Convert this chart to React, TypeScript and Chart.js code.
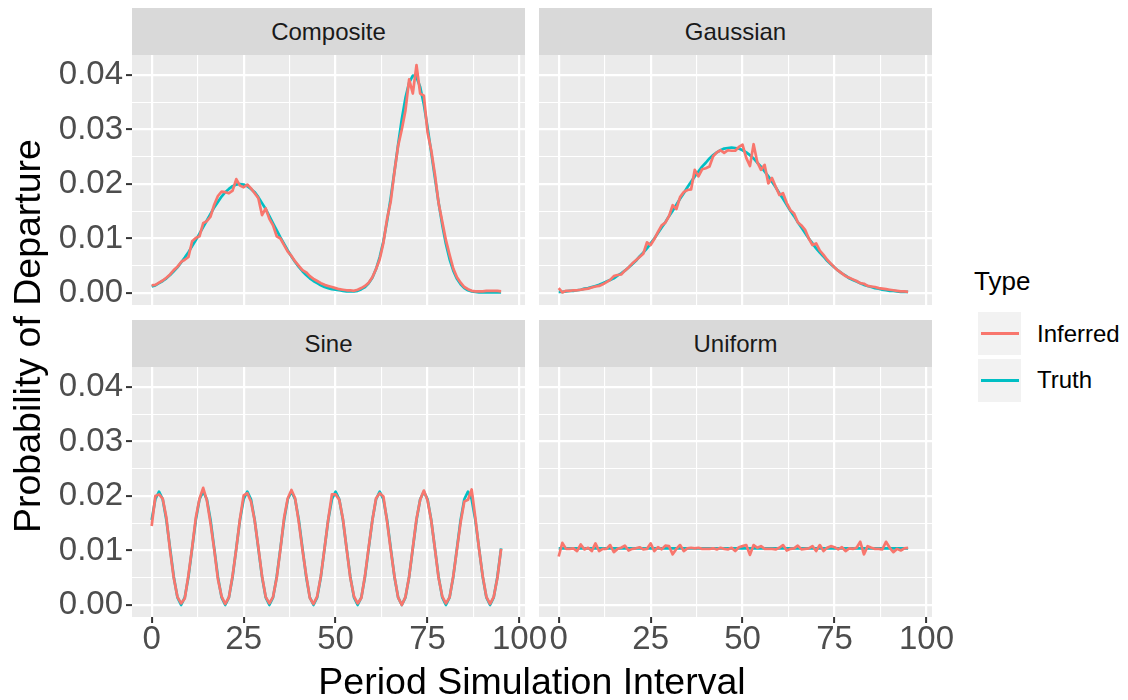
import React, { useEffect, useRef } from "react";
import { Chart, registerables } from "chart.js";

Chart.register(...registerables);

const FONT = "'Liberation Sans', Arial, Helvetica, sans-serif";
Chart.defaults.font.family = FONT;

// ---------------- data ----------------
const X_VALUES = [
  0, 1, 2, 3, 4, 5, 6, 7, 8, 9, 10, 11, 12, 13, 14, 15, 16, 17, 18, 19,
  20, 21, 22, 23, 24, 25, 26, 27, 28, 29, 30, 31, 32, 33, 34, 35, 36, 37, 38, 39,
  40, 41, 42, 43, 44, 45, 46, 47, 48, 49, 50, 51, 52, 53, 54, 55, 56, 57, 58, 59,
  60, 61, 62, 63, 64, 65, 66, 67, 68, 69, 70, 71, 72, 73, 74, 75, 76, 77, 78, 79,
  80, 81, 82, 83, 84, 85, 86, 87, 88, 89, 90, 91, 92, 93, 94, 95,
];

const COMPOSITE_TRUTH = [
  0.0012, 0.0014, 0.0018, 0.0022, 0.0027, 0.0033, 0.004, 0.0047, 0.0056, 0.0065,
  0.0075, 0.0086, 0.0097, 0.0109, 0.0121, 0.0133, 0.0145, 0.0157, 0.0167, 0.0177,
  0.0185, 0.0191, 0.0196, 0.0199, 0.02, 0.0199, 0.0196, 0.0191, 0.0185, 0.0176,
  0.0165, 0.0154, 0.0141, 0.0128, 0.0115, 0.0102, 0.009, 0.0078, 0.0067, 0.0057,
  0.0048, 0.004, 0.0033, 0.0027, 0.0022, 0.0018, 0.0014, 0.0011, 0.0009, 0.0007,
  0.0006, 0.0005, 0.0004, 0.0003, 0.0003, 0.0003, 0.0004, 0.0007, 0.0011, 0.0018,
  0.0028, 0.0044, 0.0066, 0.0095, 0.0132, 0.0175, 0.0223, 0.0272, 0.0319, 0.0358,
  0.0386, 0.0399, 0.0396, 0.0378, 0.0346, 0.0304, 0.0258, 0.0212, 0.0166, 0.0125,
  0.009, 0.0062, 0.0041, 0.0026, 0.0016, 0.0009, 0.0005, 0.0003, 0.0002, 0.0001,
  0.0001, 0.0001, 0.0001, 0.0001, 0.0001, 0.0001,
];
const COMPOSITE_INFERRED = [
  0.0014, 0.0015, 0.0019, 0.0023, 0.0028, 0.0034, 0.0042, 0.0048, 0.0057, 0.0061,
  0.0066, 0.0095, 0.0101, 0.0104, 0.0128, 0.0132, 0.014, 0.0162, 0.0178, 0.0186,
  0.0185, 0.0183, 0.0188, 0.0209, 0.0197, 0.0194, 0.0199, 0.0192, 0.0183, 0.0174,
  0.0143, 0.0155, 0.0136, 0.0124, 0.0104, 0.01, 0.0088, 0.0076, 0.0068, 0.0058,
  0.005, 0.0042, 0.0038, 0.0031, 0.0026, 0.0022, 0.0018, 0.0015, 0.0013, 0.0011,
  0.0009, 0.0007, 0.0006, 0.0005, 0.0005, 0.0004, 0.0006, 0.0009, 0.0013, 0.0019,
  0.0029, 0.0044, 0.0062, 0.0092, 0.0136, 0.0168, 0.0222, 0.027, 0.03, 0.0335,
  0.0392, 0.0366, 0.0418, 0.0366, 0.0362, 0.0295, 0.0262, 0.0218, 0.0165, 0.0131,
  0.0097, 0.007, 0.0045, 0.0029, 0.0019, 0.0011, 0.0007, 0.0004, 0.0003, 0.0003,
  0.0003, 0.0004, 0.0004, 0.0004, 0.0004, 0.0003,
];

const GAUSSIAN_TRUTH = [
  0.0002, 0.0002, 0.0003, 0.0004, 0.0004, 0.0005, 0.0006, 0.0008, 0.0009, 0.0011,
  0.0013, 0.0015, 0.0018, 0.0021, 0.0024, 0.0027, 0.0032, 0.0036, 0.0041, 0.0047,
  0.0053, 0.0059, 0.0067, 0.0074, 0.0082, 0.0091, 0.01, 0.011, 0.012, 0.013,
  0.0141, 0.0151, 0.0162, 0.0173, 0.0183, 0.0194, 0.0204, 0.0214, 0.0223, 0.0232,
  0.0239, 0.0247, 0.0253, 0.0258, 0.0262, 0.0265, 0.0266, 0.0267, 0.0266, 0.0265,
  0.0262, 0.0258, 0.0253, 0.0247, 0.0239, 0.0232, 0.0223, 0.0214, 0.0204, 0.0194,
  0.0183, 0.0173, 0.0162, 0.0151, 0.0141, 0.013, 0.012, 0.011, 0.01, 0.0091,
  0.0082, 0.0074, 0.0067, 0.0059, 0.0053, 0.0047, 0.0041, 0.0036, 0.0032, 0.0027,
  0.0024, 0.0021, 0.0018, 0.0015, 0.0013, 0.0011, 0.0009, 0.0008, 0.0006, 0.0005,
  0.0004, 0.0004, 0.0003, 0.0002, 0.0002, 0.0002,
];
const GAUSSIAN_INFERRED = [
  0.0009, 0.0001, 0.0004, 0.0004, 0.0005, 0.0005, 0.0006, 0.0007, 0.0008, 0.001,
  0.0012, 0.0013, 0.0016, 0.002, 0.0024, 0.0031, 0.0033, 0.0034, 0.0041, 0.0047,
  0.0054, 0.006, 0.0066, 0.0072, 0.0093, 0.0088, 0.0099, 0.0112, 0.0124, 0.0129,
  0.0141, 0.0161, 0.0154, 0.0176, 0.0185, 0.0189, 0.019, 0.0226, 0.0214, 0.0227,
  0.0229, 0.0232, 0.0251, 0.0258, 0.0262, 0.0257, 0.0262, 0.0261, 0.0261, 0.0268,
  0.0272, 0.0248, 0.0233, 0.0273, 0.024, 0.0226, 0.0235, 0.0201, 0.0211, 0.0195,
  0.018, 0.0183, 0.0165, 0.0152, 0.0146, 0.013, 0.0124, 0.0116, 0.01, 0.0088,
  0.0091, 0.0078, 0.007, 0.0061, 0.0054, 0.0047, 0.0041, 0.0036, 0.0031, 0.0028,
  0.0025, 0.0022, 0.0018, 0.0017, 0.0013, 0.0012, 0.0011, 0.0009, 0.0008, 0.0007,
  0.0006, 0.0005, 0.0004, 0.0003, 0.0003, 0.0002,
];

const SINE_TRUTH = [
  0.0156, 0.0194, 0.0208, 0.0194, 0.0156, 0.0104, 0.0052, 0.0014, 0.0, 0.0014, 0.0052, 0.0104,
  0.0156, 0.0194, 0.0208, 0.0194, 0.0156, 0.0104, 0.0052, 0.0014, 0.0, 0.0014, 0.0052, 0.0104,
  0.0156, 0.0194, 0.0208, 0.0194, 0.0156, 0.0104, 0.0052, 0.0014, 0.0, 0.0014, 0.0052, 0.0104,
  0.0156, 0.0194, 0.0208, 0.0194, 0.0156, 0.0104, 0.0052, 0.0014, 0.0, 0.0014, 0.0052, 0.0104,
  0.0156, 0.0194, 0.0208, 0.0194, 0.0156, 0.0104, 0.0052, 0.0014, 0.0, 0.0014, 0.0052, 0.0104,
  0.0156, 0.0194, 0.0208, 0.0194, 0.0156, 0.0104, 0.0052, 0.0014, 0.0, 0.0014, 0.0052, 0.0104,
  0.0156, 0.0194, 0.0208, 0.0194, 0.0156, 0.0104, 0.0052, 0.0014, 0.0, 0.0014, 0.0052, 0.0104,
  0.0156, 0.0194, 0.0208, 0.0194, 0.0156, 0.0104, 0.0052, 0.0014, 0.0, 0.0014, 0.0052, 0.0104,
];
const SINE_INFERRED = [
  0.0145, 0.02, 0.0203, 0.0195, 0.016, 0.01, 0.005, 0.0015, 0.0003, 0.0012, 0.0055, 0.0105,
  0.016, 0.0195, 0.0215, 0.0192, 0.015, 0.0102, 0.0048, 0.0016, 0.0002, 0.0014, 0.0054, 0.0103,
  0.0158, 0.0201, 0.0205, 0.019, 0.0155, 0.0106, 0.0053, 0.0015, 0.0003, 0.0015, 0.005, 0.0102,
  0.016, 0.0196, 0.0211, 0.0196, 0.0152, 0.0101, 0.0055, 0.0013, 0.0002, 0.0016, 0.0053, 0.0104,
  0.0157, 0.0203, 0.0203, 0.0193, 0.0158, 0.0103, 0.005, 0.0016, 0.0003, 0.0013, 0.0054, 0.0106,
  0.0155, 0.0196, 0.0205, 0.0199, 0.0153, 0.0101, 0.0053, 0.0014, 0.0, 0.0015, 0.0052, 0.0105,
  0.0158, 0.0193, 0.021, 0.0192, 0.0155, 0.0104, 0.005, 0.0016, 0.0003, 0.0014, 0.0053, 0.0102,
  0.0152, 0.019, 0.0193, 0.0212, 0.016, 0.0103, 0.0053, 0.0015, 0.0002, 0.0015, 0.005, 0.0103,
];

const UNIFORM_TRUTH = [
  0.0104, 0.0104, 0.0104, 0.0104, 0.0104, 0.0104, 0.0104, 0.0104, 0.0104, 0.0104, 0.0104, 0.0104,
  0.0104, 0.0104, 0.0104, 0.0104, 0.0104, 0.0104, 0.0104, 0.0104, 0.0104, 0.0104, 0.0104, 0.0104,
  0.0104, 0.0104, 0.0104, 0.0104, 0.0104, 0.0104, 0.0104, 0.0104, 0.0104, 0.0104, 0.0104, 0.0104,
  0.0104, 0.0104, 0.0104, 0.0104, 0.0104, 0.0104, 0.0104, 0.0104, 0.0104, 0.0104, 0.0104, 0.0104,
  0.0104, 0.0104, 0.0104, 0.0104, 0.0104, 0.0104, 0.0104, 0.0104, 0.0104, 0.0104, 0.0104, 0.0104,
  0.0104, 0.0104, 0.0104, 0.0104, 0.0104, 0.0104, 0.0104, 0.0104, 0.0104, 0.0104, 0.0104, 0.0104,
  0.0104, 0.0104, 0.0104, 0.0104, 0.0104, 0.0104, 0.0104, 0.0104, 0.0104, 0.0104, 0.0104, 0.0104,
  0.0104, 0.0104, 0.0104, 0.0104, 0.0104, 0.0104, 0.0104, 0.0104, 0.0104, 0.0104, 0.0104, 0.0104,
];
const UNIFORM_INFERRED = [
  0.0089, 0.0114, 0.0103, 0.0103, 0.0104, 0.0099, 0.0111, 0.0102, 0.0105, 0.0099, 0.0113, 0.0099,
  0.0103, 0.0103, 0.011, 0.0097, 0.0103, 0.0105, 0.0109, 0.01, 0.0103, 0.0104, 0.0106, 0.0102,
  0.0103, 0.0113, 0.0099, 0.0106, 0.0102, 0.0109, 0.0108, 0.0093, 0.0103, 0.011, 0.0099, 0.0104,
  0.0105, 0.0104, 0.0105, 0.0103, 0.0103, 0.0103, 0.0104, 0.0102, 0.0105, 0.0103, 0.0102, 0.0105,
  0.0099, 0.0106, 0.0108, 0.011, 0.0092, 0.011, 0.0105, 0.0108, 0.0103, 0.0103, 0.0103, 0.0102,
  0.0105, 0.011, 0.01, 0.0103, 0.0104, 0.0109, 0.0102, 0.0103, 0.0104, 0.0108, 0.0099, 0.011,
  0.0099, 0.0105, 0.0108, 0.0106, 0.0102, 0.0106, 0.0099, 0.0104, 0.0103, 0.0105, 0.0116, 0.0093,
  0.0108, 0.0105, 0.0103, 0.0103, 0.0102, 0.0116, 0.0105, 0.0097, 0.0103, 0.01, 0.0104, 0.0105,
];

const PANEL_TITLES = ["Composite", "Gaussian", "Sine", "Uniform"];
const SERIES_NAMES = ["Inferred", "Truth"];
const SERIES_COLORS = ["#F8766D", "#00BFC4"];

const X_TICKS = [0, 12.5, 25, 37.5, 50, 62.5, 75, 87.5, 100];
const X_MAJOR = [0, 25, 50, 75, 100];
const Y_TICKS = [0, 0.005, 0.01, 0.015, 0.02, 0.025, 0.03, 0.035, 0.04];
const Y_MAJOR = [0, 0.01, 0.02, 0.03, 0.04];
const X_LIMITS = [-5.35, 101.5];
const Y_LIMITS = [-0.0022, 0.04367];

const X_TITLE = "Period Simulation Interval";
const Y_TITLE = "Probability of Departure";
const LEGEND_TITLE = "Type";

// ---------------- layout ----------------
const PANEL_W = 393;
const PANEL_H = 250;
const COL_X = [132, 539];
const ROW_Y = [55, 367];
const STRIP_H = 47;
const PAD = { l: 100, r: 40, t: 15, b: 60 };
const AX_W = 90;
const AX_H = 50;

const isIn = (arr: number[], v: number) => arr.some((a) => Math.abs(a - v) < 1e-9);

const panelBg = {
  id: "panelBg",
  beforeDraw(chart: any) {
    const { ctx, chartArea: a } = chart;
    ctx.save();
    ctx.fillStyle = "#EBEBEB";
    ctx.fillRect(a.left, a.top, a.right - a.left, a.bottom - a.top);
    ctx.restore();
  },
};

type PanelProps = {
  col: number;
  row: number;
  inferred: number[];
  truth: number[];
};

function Panel({ col, row, inferred, truth }: PanelProps) {
  const ref = useRef<HTMLCanvasElement>(null);
  const showY = col === 0;
  const showX = row === 1;
  const w = PAD.l + PANEL_W + PAD.r;
  const h = PAD.t + PANEL_H + PAD.b;
  const left = COL_X[col] - PAD.l;
  const top = ROW_Y[row] - PAD.t;

  useEffect(() => {
    const axW = showY ? AX_W : 0;
    const axH = showX ? AX_H : 0;
    const series = [inferred, truth];
    const chart = new Chart(ref.current as HTMLCanvasElement, {
      type: "line",
      data: {
        datasets: series.map((vals, s) => ({
          label: SERIES_NAMES[s],
          data: X_VALUES.map((x, i) => ({ x, y: vals[i] })),
          borderColor: SERIES_COLORS[s],
          backgroundColor: SERIES_COLORS[s],
          borderWidth: 2.7,
          borderJoinStyle: "round",
          pointRadius: 0,
          tension: 0,
          fill: false,
        })),
      },
      options: {
        responsive: false,
        animation: false,
        events: [],
        layout: {
          padding: { left: PAD.l - axW, right: PAD.r, top: PAD.t, bottom: PAD.b - axH },
        },
        plugins: {
          legend: { display: false },
          tooltip: { enabled: false },
        },
        scales: {
          x: {
            type: "linear",
            bounds: "data",
            min: X_LIMITS[0],
            max: X_LIMITS[1],
            afterBuildTicks: (s: any) => {
              s.ticks = X_TICKS.map((v) => ({ value: v }));
            },
            afterFit: (s: any) => {
              s.height = axH;
              s.paddingLeft = 0;
              s.paddingRight = 0;
              s.paddingTop = 0;
              s.paddingBottom = 0;
            },
            border: { display: false },
            grid: {
              color: "#FFFFFF",
              lineWidth: (c: any) => (isIn(X_MAJOR, c.tick ? c.tick.value : 0) ? 2.2 : 1.1),
              drawTicks: showX,
              tickLength: 6,
              tickColor: (c: any) => (isIn(X_MAJOR, c.tick ? c.tick.value : 0) ? "#333333" : "rgba(0,0,0,0)"),
              tickWidth: 2,
            },
            ticks: {
              display: showX,
              autoSkip: false,
              maxRotation: 0,
              minRotation: 0,
              padding: 0,
              color: "#4D4D4D",
              font: { size: 33, lineHeight: 1 },
              callback: (v: any) => (isIn(X_MAJOR, Number(v)) ? String(v) : ""),
            },
          },
          y: {
            type: "linear",
            bounds: "data",
            min: Y_LIMITS[0],
            max: Y_LIMITS[1],
            afterBuildTicks: (s: any) => {
              s.ticks = Y_TICKS.map((v) => ({ value: v }));
            },
            afterFit: (s: any) => {
              s.width = axW;
              s.paddingLeft = 0;
              s.paddingRight = 0;
              s.paddingTop = 0;
              s.paddingBottom = 0;
            },
            border: { display: false },
            grid: {
              color: "#FFFFFF",
              lineWidth: (c: any) => (isIn(Y_MAJOR, c.tick ? c.tick.value : 0) ? 2.2 : 1.1),
              drawTicks: showY,
              tickLength: 6,
              tickColor: (c: any) => (isIn(Y_MAJOR, c.tick ? c.tick.value : 0) ? "#333333" : "rgba(0,0,0,0)"),
              tickWidth: 2,
            },
            ticks: {
              display: showY,
              autoSkip: false,
              padding: 3,
              color: "#4D4D4D",
              font: { size: 33, lineHeight: 1 },
              callback: (v: any) => (isIn(Y_MAJOR, Number(v)) ? Number(v).toFixed(2) : ""),
            },
          },
        },
      },
      plugins: [panelBg],
    } as any);
    return () => chart.destroy();
  }, []);

  return (
    <canvas
      ref={ref}
      width={w}
      height={h}
      style={{ position: "absolute", left, top, width: w, height: h }}
    />
  );
}

const PANEL_DATA = [
  { inferred: COMPOSITE_INFERRED, truth: COMPOSITE_TRUTH },
  { inferred: GAUSSIAN_INFERRED, truth: GAUSSIAN_TRUTH },
  { inferred: SINE_INFERRED, truth: SINE_TRUTH },
  { inferred: UNIFORM_INFERRED, truth: UNIFORM_TRUTH },
];

export default function App() {
  return (
    <div
      style={{
        position: "absolute",
        left: 0,
        top: 0,
        width: 1128,
        height: 700,
        background: "#FFFFFF",
        fontFamily: FONT,
        overflow: "hidden",
      }}
    >
      {PANEL_TITLES.map((t, i) => {
        const col = i % 2;
        const row = Math.floor(i / 2);
        return (
          <div
            key={"strip" + t}
            style={{
              position: "absolute",
              left: COL_X[col],
              top: ROW_Y[row] - STRIP_H,
              width: PANEL_W,
              height: STRIP_H,
              background: "#D9D9D9",
              color: "#1A1A1A",
              fontSize: 24,
              lineHeight: STRIP_H + "px",
              textAlign: "center",
            }}
          >
            {t}
          </div>
        );
      })}
      {PANEL_DATA.map((d, i) => (
        <Panel key={PANEL_TITLES[i]} col={i % 2} row={Math.floor(i / 2)} inferred={d.inferred} truth={d.truth} />
      ))}
      <div
        style={{
          position: "absolute",
          left: 132,
          width: 800,
          top: 656,
          height: 50,
          lineHeight: "50px",
          textAlign: "center",
          fontSize: 37.5,
          color: "#000000",
          whiteSpace: "nowrap",
        }}
      >
        {X_TITLE}
      </div>
      <div
        style={{
          position: "absolute",
          left: 27 - 300,
          width: 600,
          top: 336 - 25,
          height: 50,
          lineHeight: "50px",
          textAlign: "center",
          fontSize: 37.5,
          color: "#000000",
          whiteSpace: "nowrap",
          transform: "rotate(-90deg)",
        }}
      >
        {Y_TITLE}
      </div>
      <div
        style={{
          position: "absolute",
          left: 974,
          top: 266,
          height: 30,
          lineHeight: "30px",
          fontSize: 26,
          color: "#000000",
        }}
      >
        {LEGEND_TITLE}
      </div>
      {SERIES_NAMES.map((n, i) => (
        <React.Fragment key={n}>
          <div
            style={{
              position: "absolute",
              left: 978,
              top: 312 + i * 47,
              width: 43,
              height: 43,
              background: "#F2F2F2",
            }}
          >
            <div
              style={{
                position: "absolute",
                left: 2.5,
                top: 20,
                width: 38,
                height: 3,
                background: SERIES_COLORS[i],
              }}
            />
          </div>
          <div
            style={{
              position: "absolute",
              left: 1037,
              top: 334 + i * 46 - 15,
              height: 30,
              lineHeight: "30px",
              fontSize: 24,
              color: "#000000",
              whiteSpace: "nowrap",
            }}
          >
            {n}
          </div>
        </React.Fragment>
      ))}
    </div>
  );
}
